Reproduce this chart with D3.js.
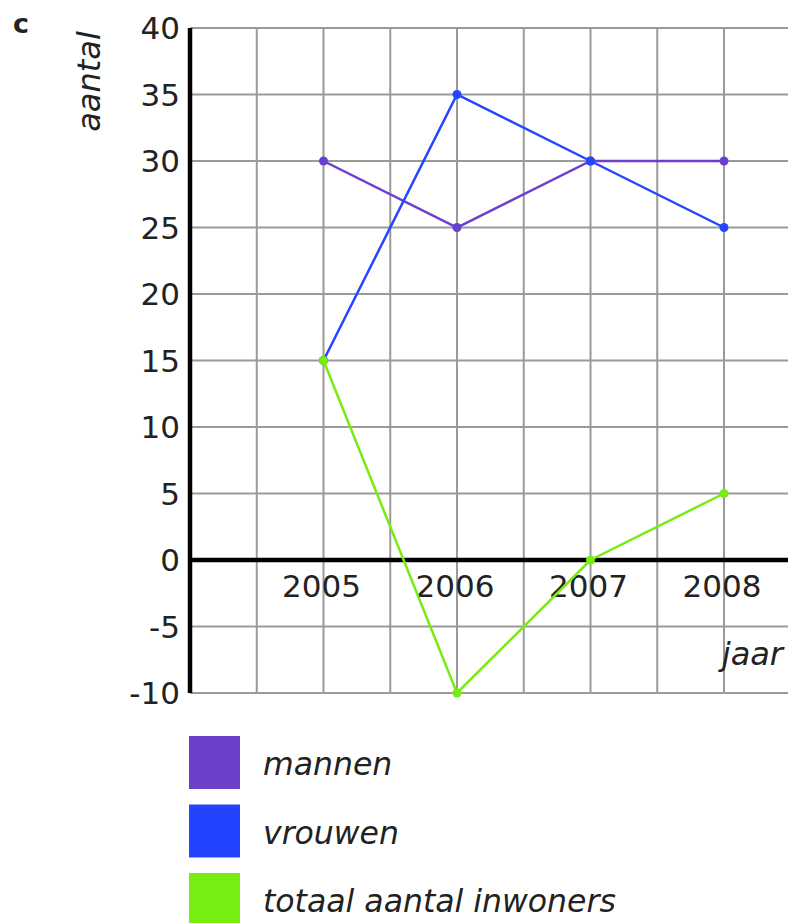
<!DOCTYPE html>
<html>
<head>
<meta charset="utf-8">
<script src="https://cdn.jsdelivr.net/npm/d3@7"></script>
<style>
  html, body { margin: 0; padding: 0; background: #fff; }
  svg { display: block; }
  text { font-family: "DejaVu Sans", Verdana, sans-serif; fill: #222; }
</style>
</head>
<body>
<svg id="chart" width="788" height="923"></svg>
<script>
const years = [2005, 2006, 2007, 2008];
const mannen = [30, 25, 30, 30];
const vrouwen = [15, 35, 30, 25];
const totaal = [15, -10, 0, 5];
const yTicks = [40, 35, 30, 25, 20, 15, 10, 5, 0, -5, -10];
const seriesNames = ["mannen", "vrouwen", "totaal aantal inwoners"];
const seriesColors = ["#6a3fcf", "#2546ff", "#77ec12"];
const legendColors = ["#6b40c9", "#2244ff", "#77ee11"];

const svg = d3.select("#chart");
const x = d3.scaleLinear().domain([2004, 2008.5]).range([190, 190 + 4.5 * 133.5]);
const y = d3.scaleLinear().domain([-10, 40]).range([693, 28]);

// grid
const gridX = d3.range(2004.5, 2009.01, 0.5);
svg.append("g").selectAll("line").data(gridX).join("line")
  .attr("x1", d => x(d)).attr("x2", d => x(d))
  .attr("y1", y(40)).attr("y2", y(-10))
  .attr("stroke", "#9a9a9a").attr("stroke-width", 2);
svg.append("g").selectAll("line").data(yTicks.filter(v => v !== 0)).join("line")
  .attr("x1", x(2004)).attr("x2", 800)
  .attr("y1", d => y(d)).attr("y2", d => y(d))
  .attr("stroke", "#9a9a9a").attr("stroke-width", 2);

// axes
svg.append("line").attr("x1", x(2004)).attr("x2", 800)
  .attr("y1", y(0)).attr("y2", y(0)).attr("stroke", "#000").attr("stroke-width", 4.5);
svg.append("line").attr("x1", x(2004)).attr("x2", x(2004))
  .attr("y1", y(40)).attr("y2", y(-10)).attr("stroke", "#000").attr("stroke-width", 4.5);

// y tick labels
svg.append("g").selectAll("text").data(yTicks).join("text")
  .attr("x", 180).attr("y", d => y(d)).attr("dy", "0.36em")
  .attr("text-anchor", "end").attr("font-size", 31).text(d => d);

// x tick labels
svg.append("g").selectAll("text").data(years).join("text")
  .attr("x", d => x(d) - 2).attr("y", 597)
  .attr("text-anchor", "middle").attr("font-size", 31).text(d => d);

// labels
svg.append("text").attr("x", 13).attr("y", 33).attr("font-size", 27)
  .attr("font-weight", "bold").text("c");
svg.append("text").attr("transform", "translate(100,81.5) rotate(-90)")
  .attr("text-anchor", "middle").attr("font-size", 32).attr("font-style", "italic").text("aantal");
svg.append("text").attr("x", 783).attr("y", 665).attr("text-anchor", "end")
  .attr("font-size", 32).attr("font-style", "italic").text("jaar");

// series
const allSeries = [mannen, vrouwen, totaal];
const line = d3.line().x((d, i) => x(years[i])).y(d => y(d));
allSeries.forEach((s, k) => {
  const g = svg.append("g");
  g.append("path").attr("d", line(s)).attr("fill", "none")
    .attr("stroke", seriesColors[k]).attr("stroke-width", 2.5);
  g.selectAll("circle").data(s).join("circle")
    .attr("cx", (d, i) => x(years[i])).attr("cy", d => y(d)).attr("r", 4.5)
    .attr("fill", seriesColors[k]);
});

// legend
const leg = svg.append("g");
seriesNames.forEach((n, i) => {
  const top = 736 + i * 68.5;
  leg.append("rect").attr("x", 189).attr("y", top).attr("width", 51).attr("height", 53)
    .attr("fill", legendColors[i]);
  leg.append("text").attr("x", 263).attr("y", top + 39).attr("font-size", 31.5)
    .attr("font-style", "italic").text(n);
});
</script>
</body>
</html>
